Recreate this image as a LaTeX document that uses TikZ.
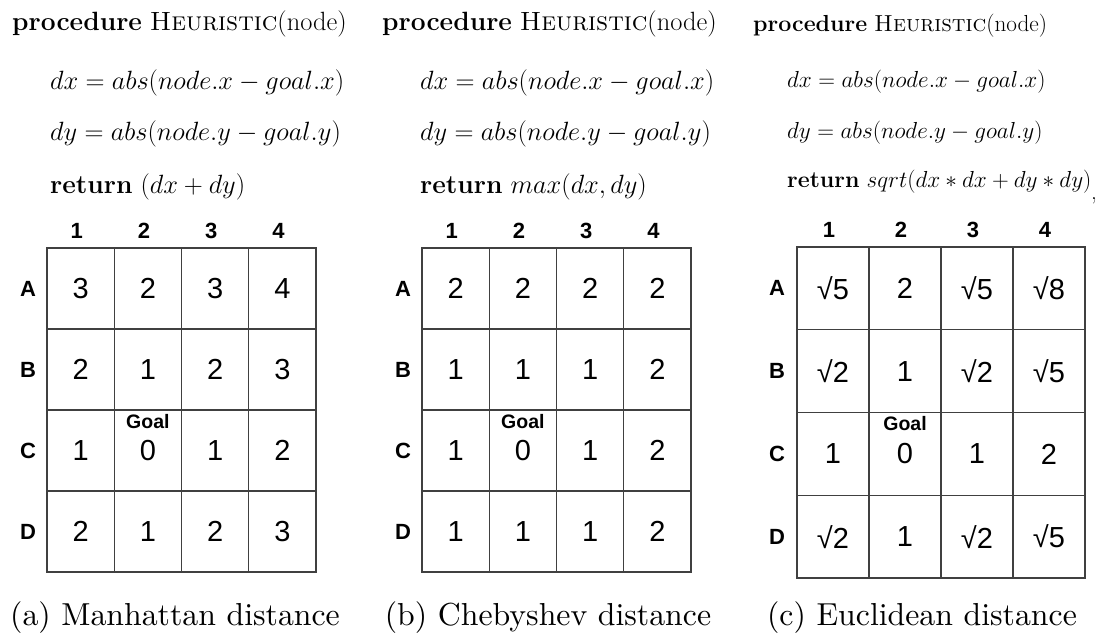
\RequirePackage{fix-cm}
\documentclass[tikz,border=0pt]{standalone}
\usepackage{fontspec}
\newfontfamily\arialf{Liberation Sans}
\newfontfamily\lmten{lmroman10-regular}[Extension=.otf]
\tikzset{
  code/.style={anchor=base west, inner sep=0pt, font=\fontsize{26.4}{31}\selectfont},
  codec/.style={anchor=base west, inner sep=0pt, font=\fontsize{23.2}{28}\selectfont},
  captxt/.style={anchor=base, inner sep=0pt, font=\lmten\fontsize{31.8}{36}\selectfont},
  lab/.style={inner sep=0pt, font=\arialf\bfseries\fontsize{22}{25}\selectfont},
  goal/.style={inner sep=0pt, font=\arialf\bfseries\fontsize{19.5}{22}\selectfont},
  cell/.style={draw=black!75, line width=1.3pt, inner sep=0pt, font=\arialf\fontsize{29}{33}\selectfont}
}
\newcommand{\drawgrid}[7]{%
  \foreach \cc in {1,...,4}
    \node[lab] (#1-h\cc) at ({#2+(\cc-0.5)*#4-4}, {#3-17.5}) {\cc};
  \foreach \lab/\va/\vb/\vc/\vd [count=\r] in {#7} {
    \node[lab] (#1-\lab) at (#6, {#3+(\r-0.5)*#5}) {\lab};
    \foreach \v [count=\cc] in {\va,\vb,\vc,\vd}
      \node[cell, minimum width=#4pt, minimum height=#5pt] (#1-\lab\cc)
        at ({#2+(\cc-0.5)*#4}, {#3+(\r-0.5)*#5}) {\v};
  }
}
\begin{document}
\begin{tikzpicture}[x=1pt,y=-1pt]
\useasboundingbox (0,0) rectangle (1108,634);

% ---------- (a) Manhattan ----------
\node[code] (a-p) at (12,30.5) {\textbf{procedure} \textsc{Heuristic}(node)};
\node[code] (a-1) at (50,89) {$dx = abs(node.x - goal.x)$};
\node[code] (a-2) at (50,140) {$dy = abs(node.y - goal.y)$};
\node[code] (a-3) at (50,193) {\textbf{return} $(dx + dy)$};
\drawgrid{a}{47}{248}{67.25}{81}{28}{A/3/2/3/4, B/2/1/2/3, C/1/0/1/2, D/2/1/2/3}
\node[goal, yshift=29pt] (a-goal) at (a-C2.center) {Goal};
\node[captxt] (a-cap) at (175,625) {(a) Manhattan distance};

% ---------- (b) Chebyshev ----------
\node[code] (b-p) at (382,31) {\textbf{procedure} \textsc{Heuristic}(node)};
\node[code] (b-1) at (420,89) {$dx = abs(node.x - goal.x)$};
\node[code] (b-2) at (420,140) {$dy = abs(node.y - goal.y)$};
\node[code] (b-3) at (420,193) {\textbf{return} $max(dx, dy)$};
\drawgrid{b}{422}{248}{67.25}{81}{403}{A/2/2/2/2, B/1/1/1/2, C/1/0/1/2, D/1/1/1/2}
\node[goal, yshift=29pt] (b-goal) at (b-C2.center) {Goal};
\node[captxt] (b-cap) at (548,625) {(b) Chebyshev distance};

% ---------- (c) Euclidean ----------
\node[codec] (c-p) at (753,31.5) {\textbf{procedure} \textsc{Heuristic}(node)};
\node[codec] (c-1) at (787,87) {$dx = abs(node.x - goal.x)$};
\node[codec] (c-2) at (787,138) {$dy = abs(node.y - goal.y)$};
\node[codec] (c-3) at (787,187) {\textbf{return} $sqrt(dx * dx + dy * dy)$};
\node[codec] (c-comma) at (1091,199) {,};
\drawgrid{c}{797}{247}{72}{82.75}{777}{A/√5/2/√5/√8, B/√2/1/√2/√5, C/1/0/1/2, D/√2/1/√2/√5}
\node[goal, yshift=30pt] (c-goal) at (c-C2.center) {Goal};
\node[captxt] (c-cap) at (922,625) {(c) Euclidean distance};
\end{tikzpicture}
\end{document}
